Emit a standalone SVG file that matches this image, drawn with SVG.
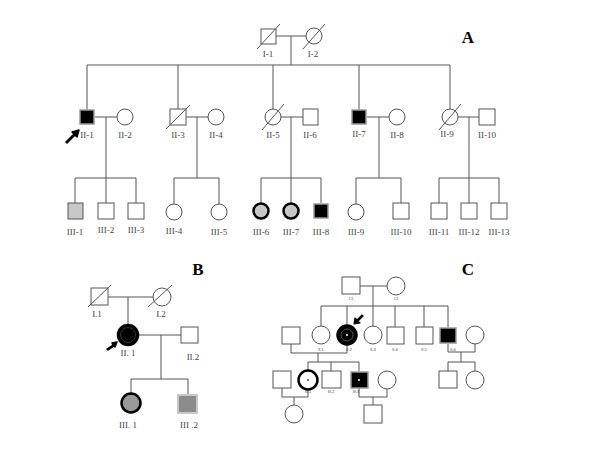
<svg xmlns="http://www.w3.org/2000/svg" width="600" height="450" viewBox="0 0 600 450">
<style>
.ln{stroke:#555;stroke-width:1;fill:none}
.sq{fill:#fff;stroke:#555;stroke-width:1}
.ci{fill:#fff;stroke:#555;stroke-width:1}
.sl{stroke:#555;stroke-width:1}
.lb{font-family:"Liberation Serif",serif;font-size:9px;fill:#444;text-anchor:middle}
.sm{font-family:"Liberation Sans",sans-serif;font-size:4px;fill:#444;text-anchor:middle}
.big{font-family:"Liberation Serif",serif;font-size:17px;font-weight:bold;fill:#000;text-anchor:middle}
.aff{fill:#000;stroke:#999;stroke-width:1.5}
.gc{fill:#c8c8c8;stroke:#000;stroke-width:2.5}
</style>
<rect width="600" height="450" fill="#fff"/>
<g id="connectors">
<path class="ln" d="M276 36H306 M291 36V65 M87 65H450 M87 65V109 M178 65V109 M273 65V109 M359 65V109 M450 65V109"/>
<path class="ln" d="M95 117H117 M106 117V178 M75 178H136 M75 178V203 M106 178V203 M136 178V203"/>
<path class="ln" d="M186 117H208 M197 117V178 M174 178H219 M174 178V204 M219 178V204"/>
<path class="ln" d="M281 117H303 M291 117V178 M261 178H321 M261 178V203 M291 178V203 M321 178V203"/>
<path class="ln" d="M367 117H389 M379 117V178 M356 178H401 M356 178V204 M401 178V203"/>
<path class="ln" d="M458 117H479 M469 117V178 M439 178H499 M439 178V203 M469 178V203 M499 178V203"/>
<path class="ln" d="M108 297H153 M128 297V324 M139 335H181 M161 335V379 M131 379H188 M131 379V393 M188 379V394"/>
<path class="ln" d="M360 286H387 M373 286V306 M321 306H448 M321 306V326 M347 306V325 M373 306V326 M395 306V327 M424 306V327 M448 306V327"/>
<path class="ln" d="M291 344V353H347V345 M318 353V362 M308 362H359 M308 362V370 M331 362V371 M359 362V371"/>
<path class="ln" d="M448 344V352H475V344 M461 352V362 M448 362H475 M448 362V371 M475 362V371"/>
<path class="ln" d="M282 388V397H308V390 M294 397V405 M359 388V397H387V389 M373 397V405"/>
</g>
<g id="A">
<text class="big" x="468" y="43">A</text>
<g id="A-I-1"><rect class="sq" x="261" y="29" width="15" height="15"/><line class="sl" x1="257" y1="49" x2="280" y2="24"/><text class="lb" x="268" y="57">I-1</text></g>
<g id="A-I-2"><circle class="ci" cx="314" cy="36" r="8"/><line class="sl" x1="303" y1="49" x2="325" y2="24"/><text class="lb" x="313" y="57">I-2</text></g>
<g id="A-II-1"><rect class="aff" x="80" y="110" width="14" height="14"/><text class="lb" x="87" y="138">II-1</text>
<path d="M66 142L74 134L72 132L79 130L77 137L75 135L67 143Z" fill="#000" stroke="#000" stroke-width="1.5" stroke-linejoin="round"/></g>
<g id="A-II-2"><circle class="ci" cx="125" cy="117" r="8"/><text class="lb" x="125" y="138">II-2</text></g>
<g id="A-II-3"><rect class="sq" x="170" y="109" width="16" height="16"/><line class="sl" x1="166" y1="129" x2="190" y2="105"/><text class="lb" x="178" y="138">II-3</text></g>
<g id="A-II-4"><circle class="ci" cx="216" cy="117" r="8"/><text class="lb" x="216" y="138">II-4</text></g>
<g id="A-II-5"><circle class="ci" cx="273" cy="117" r="8"/><line class="sl" x1="262" y1="130" x2="284" y2="104"/><text class="lb" x="273" y="138">II-5</text></g>
<g id="A-II-6"><rect class="sq" x="303" y="109" width="15" height="16"/><text class="lb" x="310" y="138">II-6</text></g>
<g id="A-II-7"><rect class="aff" x="352" y="110" width="14" height="14"/><text class="lb" x="359" y="137">II-7</text></g>
<g id="A-II-8"><circle class="ci" cx="397" cy="117" r="8"/><text class="lb" x="397" y="138">II-8</text></g>
<g id="A-II-9"><circle class="ci" cx="450" cy="117" r="8"/><line class="sl" x1="439" y1="130" x2="461" y2="104"/><text class="lb" x="447" y="137">II-9</text></g>
<g id="A-II-10"><rect class="sq" x="479" y="109" width="16" height="16"/><text class="lb" x="487" y="138">II-10</text></g>
<g id="A-III-1"><rect x="68" y="203" width="15" height="16" fill="#c8c8c8" stroke="#555"/><text class="lb" x="75" y="235">III-1</text></g>
<g id="A-III-2"><rect class="sq" x="98" y="203" width="16" height="16"/><text class="lb" x="106" y="233">III-2</text></g>
<g id="A-III-3"><rect class="sq" x="128" y="203" width="16" height="16"/><text class="lb" x="136" y="233">III-3</text></g>
<g id="A-III-4"><circle class="ci" cx="174" cy="212" r="8"/><text class="lb" x="174" y="234">III-4</text></g>
<g id="A-III-5"><circle class="ci" cx="219" cy="212" r="8"/><text class="lb" x="219" y="235">III-5</text></g>
<g id="A-III-6"><circle class="gc" cx="261" cy="211" r="7.5"/><text class="lb" x="261" y="235">III-6</text></g>
<g id="A-III-7"><circle class="gc" cx="291" cy="211" r="7.5"/><text class="lb" x="291" y="235">III-7</text></g>
<g id="A-III-8"><rect class="aff" x="314" y="204" width="14" height="14"/><text class="lb" x="321" y="235">III-8</text></g>
<g id="A-III-9"><circle class="ci" cx="356" cy="212" r="8"/><text class="lb" x="356" y="235">III-9</text></g>
<g id="A-III-10"><rect class="sq" x="393" y="203" width="16" height="16"/><text class="lb" x="401" y="235">III-10</text></g>
<g id="A-III-11"><rect class="sq" x="431" y="203" width="16" height="16"/><text class="lb" x="439" y="235">III-11</text></g>
<g id="A-III-12"><rect class="sq" x="461" y="203" width="16" height="16"/><text class="lb" x="469" y="235">III-12</text></g>
<g id="A-III-13"><rect class="sq" x="491" y="203" width="16" height="16"/><text class="lb" x="499" y="235">III-13</text></g>
</g>
<g id="B">
<text class="big" x="198" y="275">B</text>
<g id="B-I-1"><rect class="sq" x="91" y="288" width="17" height="17"/><line class="sl" x1="88" y1="307" x2="111" y2="285"/><text class="lb" x="97" y="317">I.1</text></g>
<g id="B-I-2"><circle class="ci" cx="162" cy="297" r="9"/><line class="sl" x1="148" y1="307" x2="172" y2="285"/><text class="lb" x="161" y="317">I.2</text></g>
<g id="B-II-1"><circle cx="128" cy="335" r="10" fill="#000" stroke="#000" stroke-width="2.5"/><circle cx="128" cy="335" r="7.5" fill="none" stroke="#444" stroke-width="0.8"/><text class="lb" x="128" y="356">II. 1</text>
<path d="M107 349L113 345L112 343L117 342L115 347L114 346L108 350Z" fill="#000" stroke="#000" stroke-width="1.5" stroke-linejoin="round"/></g>
<g id="B-II-2"><rect class="sq" x="181" y="327" width="17" height="16"/><text class="lb" x="193" y="360">II.2</text></g>
<g id="B-III-1"><circle cx="131" cy="403" r="9.5" fill="#999" stroke="#000" stroke-width="2.5"/><text class="lb" x="128" y="428">III. 1</text></g>
<g id="B-III-2"><rect x="178" y="395" width="19" height="18" fill="#8c8c8c" stroke="#c8c8c8" stroke-width="2"/><text class="lb" x="189" y="428">III .2</text></g>
</g>
<g id="C">
<text class="big" x="468" y="275">C</text>
<g id="C-I-1"><rect class="sq" x="342" y="277" width="18" height="17"/><text class="sm" x="351" y="300">I.1</text></g>
<g id="C-I-2"><circle class="ci" cx="396" cy="286" r="9"/><text class="sm" x="396" y="300">I.2</text></g>
<g id="C-II-sp1"><rect class="sq" x="282" y="327" width="18" height="17"/></g>
<g id="C-II-1"><circle class="ci" cx="321" cy="335" r="9"/><text class="sm" x="321" y="351">II.1</text></g>
<g id="C-II-2"><circle cx="347" cy="335" r="9.5" fill="#000" stroke="#000" stroke-width="2.5"/><circle cx="347" cy="335" r="6" fill="none" stroke="#666" stroke-width="0.8"/><circle cx="347" cy="335" r="1" fill="#fff"/><text class="sm" x="349" y="351">II.2</text>
<path d="M354 324L355 318L357 320L362 315L363 316L358 321L360 323Z" fill="#000" stroke="#000" stroke-width="1.2" stroke-linejoin="round"/></g>
<g id="C-II-3"><circle class="ci" cx="373" cy="335" r="9"/><text class="sm" x="373" y="351">II.3</text></g>
<g id="C-II-4"><rect class="sq" x="387" y="327" width="17" height="17"/><text class="sm" x="395" y="351">II.4</text></g>
<g id="C-II-5"><rect class="sq" x="416" y="327" width="17" height="17"/><text class="sm" x="424" y="351">II.5</text></g>
<g id="C-II-6"><rect class="aff" x="440" y="328" width="16" height="15"/><text class="sm" x="453" y="351">II.6</text></g>
<g id="C-II-sp2"><circle class="ci" cx="475" cy="335" r="9"/></g>
<g id="C-III-sp1"><rect class="sq" x="273" y="371" width="18" height="17"/></g>
<g id="C-III-1"><circle cx="308" cy="380" r="9.5" fill="#fff" stroke="#000" stroke-width="2.5"/><circle cx="308" cy="380" r="1" fill="#444"/><text class="sm" x="308" y="393">III.1</text></g>
<g id="C-III-2"><rect class="sq" x="322" y="371" width="19" height="17"/><text class="sm" x="331" y="393">III.2</text></g>
<g id="C-III-3"><rect class="aff" x="351" y="372" width="17" height="16"/><circle cx="359" cy="380" r="1" fill="#fff"/><text class="sm" x="356" y="393">III.3</text></g>
<g id="C-III-sp2"><circle class="ci" cx="387" cy="380" r="9"/></g>
<g id="C-IV-1"><circle class="ci" cx="294" cy="414" r="9"/></g>
<g id="C-IV-2"><rect class="sq" x="364" y="405" width="18" height="18"/></g>
<g id="C-III-4"><rect class="sq" x="439" y="371" width="18" height="17"/></g>
<g id="C-III-5"><circle class="ci" cx="475" cy="380" r="9"/></g>
</g>
</svg>
